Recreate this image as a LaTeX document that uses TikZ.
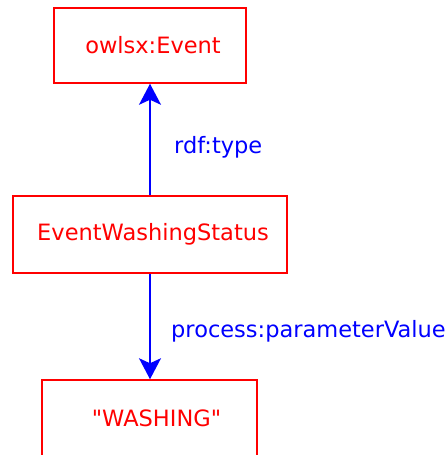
\documentclass[tikz,border=0pt]{standalone}
\usepackage{fontspec}
\setmainfont{DejaVu Sans}
\usetikzlibrary{arrows.meta}
\begin{document}
\begin{tikzpicture}[x=1pt,y=-1pt,
  resbox/.style={draw=red,line width=1.5pt,text=red,inner sep=0pt,
    font=\fontsize{22.5}{27}\selectfont},
  link/.style={draw=blue,line width=1.6pt,
    -{Stealth[length=21pt,width=22pt,inset=5pt]}},
  linklabel/.style={text=blue,inner sep=0pt,font=\fontsize{22.5}{27}\selectfont}]
  \useasboundingbox (0,0) rectangle (445,455);
  % resource boxes
  \node[resbox,minimum width=192pt,minimum height=75pt] (event) at (150,45.5) {\hspace*{6pt}owlsx:Event};
  \node[resbox,minimum width=274pt,minimum height=77pt] (status) at (150,234.5) {\hspace*{6pt}\raisebox{-2pt}{EventWashingStatus}};
  \node[resbox,minimum width=215pt,minimum height=76pt] (value) at (149.5,418) {\hspace*{14pt}\textquotedbl WASHING\textquotedbl};
  % properties
  \draw[link] (status) -- (event);
  \draw[link] (status.south) -- (status.south |- value.north);
  \node[linklabel,anchor=west] (typelbl) at (174,147) {rdf:type};
  \node[linklabel,anchor=west] (paramlbl) at (171,331) {process:parameterValue};
\end{tikzpicture}
\end{document}
